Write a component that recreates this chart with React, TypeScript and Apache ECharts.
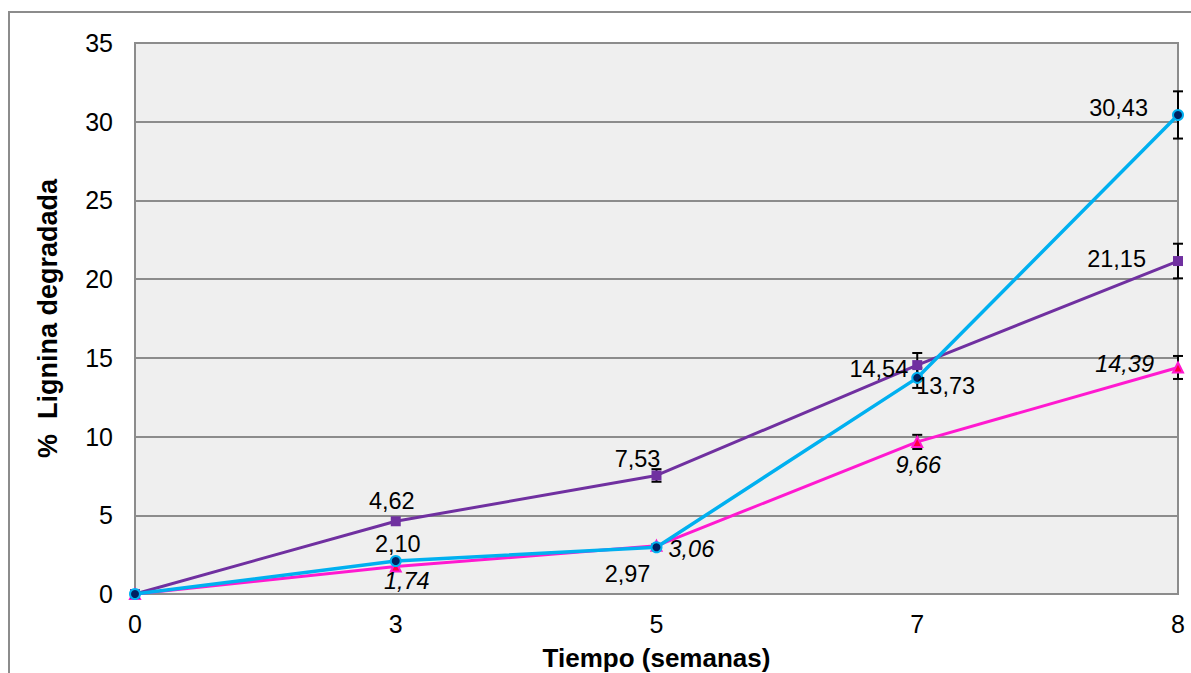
import React, { useEffect, useRef } from "react";
import * as echarts from "echarts";

const weeks = ["0", "3", "5", "7", "8"];
const purpleValues = [0, 4.62, 7.53, 14.54, 21.15];
const cyanValues = [0, 2.1, 2.97, 13.73, 30.43];
const magentaValues = [0, 1.74, 3.06, 9.66, 14.39];
const purpleErr = [0, 0, 0.4, 0.77, 1.1];
const cyanErr = [0, 0, 0.15, 0.64, 1.5];
const magentaErr = [0, 0, 0.1, 0.45, 0.73];
const yTicks = [0, 5, 10, 15, 20, 25, 30, 35];

const fmt = (v: number) => v.toFixed(2).replace(".", ",");

type LP = { position: any; offset?: number[] } | null;
const purpleLabels: LP[] = [null, { position: "top", offset: [-4, 2] }, { position: "top", offset: [-19, 6] }, { position: "left", offset: [1, 4] }, { position: "left", offset: [-22, -2] }];
const cyanLabels: LP[] = [null, { position: "top", offset: [2, 6] }, { position: "bottom", offset: [-29, 4] }, { position: "right", offset: [-12, 8] }, { position: "left", offset: [-19, -7] }];
const magentaLabels: LP[] = [null, { position: "bottom", offset: [11, -8] }, { position: "right", offset: [1, 3] }, { position: "bottom", offset: [1, 1] }, { position: "left", offset: [-13, -3] }];

const FONT = "'Liberation Sans', Arial, sans-serif";

function buildData(vals: number[], labels: LP[], italic: boolean) {
  return vals.map((v, i) => {
    const l = labels[i];
    return {
      value: v,
      label: l
        ? {
            show: true,
            position: l.position,
            offset: l.offset || [0, 0],
            formatter: fmt(v),
            fontSize: 23.5,
            fontFamily: FONT,
            fontStyle: italic ? "italic" : "normal",
            color: "#000",
          }
        : { show: false },
    };
  });
}

function errSeries(vals: number[], errs: number[]) {
  const data = vals
    .map((v, i) => [i, v - errs[i], v + errs[i]])
    .filter((d, i) => errs[i] > 0);
  return {
    type: "custom",
    z: 1,
    silent: true,
    renderItem: (params: any, api: any) => {
      const x = api.value(0);
      const lo = api.coord([x, api.value(1)]);
      const hi = api.coord([x, api.value(2)]);
      const w = 5;
      const style = { stroke: "#000", lineWidth: 2 };
      return {
        type: "group",
        children: [
          { type: "line", shape: { x1: lo[0], y1: lo[1], x2: hi[0], y2: hi[1] }, style },
          { type: "line", shape: { x1: lo[0] - w, y1: lo[1], x2: lo[0] + w, y2: lo[1] }, style },
          { type: "line", shape: { x1: hi[0] - w, y1: hi[1], x2: hi[0] + w, y2: hi[1] }, style },
        ],
      };
    },
    encode: { x: 0, y: [1, 2] },
    data,
  };
}

export default function App() {
  const ref = useRef<HTMLDivElement>(null);
  useEffect(() => {
    document.body.style.margin = "0";
    const chart = echarts.init(ref.current!, undefined, { renderer: "svg" });
    chart.setOption({
      animation: false,
      backgroundColor: "#fff",
      textStyle: { fontFamily: FONT },
      graphic: [
        {
          type: "rect",
          shape: { x: 9, y: 12, width: 1250, height: 720 },
          style: { fill: "none", stroke: "#8c8c8c", lineWidth: 2 },
          silent: true,
          z: -10,
        },
      ],
      grid: {
        left: 135,
        right: 13,
        top: 43,
        bottom: 79,
        show: true,
        containLabel: false,
        outerBoundsMode: "none",
        backgroundColor: "#efefef",
        borderColor: "#8c8c8c",
        borderWidth: 2,
      },
      xAxis: {
        type: "category",
        data: weeks,
        boundaryGap: false,
        name: "Tiempo (semanas)",
        nameLocation: "middle",
        nameGap: 51,
        nameTextStyle: { fontSize: 26, fontWeight: "bold", color: "#000", fontFamily: FONT, lineHeight: 26 },
        axisLine: { show: true, lineStyle: { color: "#8c8c8c", width: 2 } },
        axisTick: { show: false },
        axisLabel: { fontSize: 25, color: "#000", margin: 17, fontFamily: FONT },
        splitLine: { show: false },
      },
      yAxis: {
        type: "value",
        min: yTicks[0],
        max: yTicks[yTicks.length - 1],
        interval: 5,
        name: "%  Lignina degradada",
        nameLocation: "middle",
        nameGap: 74,
        nameTextStyle: { fontSize: 27, fontWeight: "bold", color: "#000", fontFamily: FONT },
        axisLine: { show: true, lineStyle: { color: "#8c8c8c", width: 2 } },
        axisTick: { show: false },
        axisLabel: { fontSize: 25, color: "#000", margin: 22, fontFamily: FONT },
        splitLine: { show: true, lineStyle: { color: "#8c8c8c", width: 2 } },
      },
      series: [
        errSeries(purpleValues, purpleErr),
        errSeries(cyanValues, cyanErr),
        errSeries(magentaValues, magentaErr),
        {
          type: "line",
          z: 3,
          data: buildData(purpleValues, purpleLabels, false),
          lineStyle: { color: "#7030a0", width: 3 },
          symbol: "rect",
          symbolSize: 10,
          itemStyle: { color: "#7030a0" },
        },
        {
          type: "line",
          z: 2,
          data: buildData(magentaValues, magentaLabels, true),
          lineStyle: { color: "#ff19d0", width: 3 },
          symbol: "triangle",
          symbolSize: 10,
          itemStyle: { color: "#ff0040", borderColor: "#ff19d0", borderWidth: 2 },
        },
        {
          type: "line",
          z: 4,
          data: buildData(cyanValues, cyanLabels, false),
          lineStyle: { color: "#00b0f0", width: 3.5 },
          symbol: "circle",
          symbolSize: 10,
          itemStyle: { color: "#002060", borderColor: "#00b0f0", borderWidth: 2 },
        },
      ],
    });
    return () => chart.dispose();
  }, []);
  return <div ref={ref} style={{ width: 1191, height: 673 }} />;
}
